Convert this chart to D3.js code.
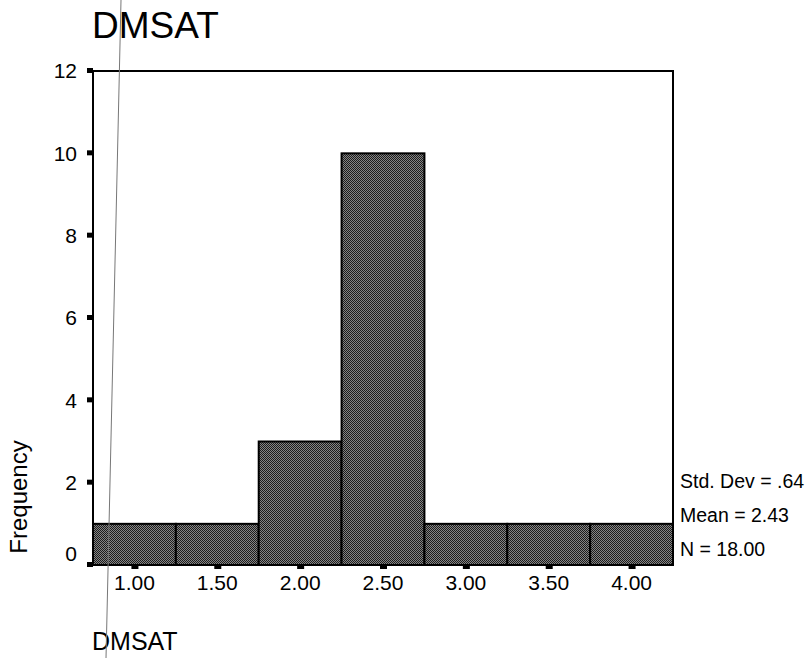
<!DOCTYPE html>
<html>
<head>
<meta charset="utf-8">
<script src="https://cdn.jsdelivr.net/npm/d3@7"></script>
<style>
  body { margin: 0; background: #fff; }
  text { font-family: "Liberation Sans", Arial, sans-serif; fill: #000; }
</style>
</head>
<body>
<svg id="chart"></svg>
<script>
// data
const binCenters = [1.0, 1.5, 2.0, 2.5, 3.0, 3.5, 4.0];
const frequencies = [1, 1, 3, 10, 1, 1, 1];
const yTicks = [0, 2, 4, 6, 8, 10, 12];
const xTickLabels = ["1.00", "1.50", "2.00", "2.50", "3.00", "3.50", "4.00"];
const statLines = ["Std. Dev = .64", "Mean = 2.43", "N = 18.00"];
const varName = "DMSAT";
const binWidth = 0.5;

// constants
const width = 812;
const height = 658;
const margin = { left: 93, right: 139, top: 71, bottom: 93 };
const visWidth = width - margin.left - margin.right;
const visHeight = height - margin.top - margin.bottom;

const svg = d3.select('svg#chart').attr('width', width).attr('height', height);

// halftone-like fill for the bars
const defs = svg.append('defs');
const pat = defs.append('pattern').attr('id', 'dots')
  .attr('width', 2).attr('height', 2).attr('patternUnits', 'userSpaceOnUse');
pat.append('rect').attr('width', 2).attr('height', 2).attr('fill', '#858585');
pat.append('rect').attr('x', 0).attr('y', 0).attr('width', 1).attr('height', 1).attr('fill', '#1c1c1c');
pat.append('rect').attr('x', 1).attr('y', 1).attr('width', 1).attr('height', 1).attr('fill', '#1c1c1c');

const g = svg.append('g').attr('transform', `translate(${margin.left}, ${margin.top})`);

const xScale = d3.scaleLinear()
  .domain([binCenters[0] - binWidth / 2, binCenters[binCenters.length - 1] + binWidth / 2])
  .range([0, visWidth]);
const yScale = d3.scaleLinear().domain([0, 12]).range([visHeight, 0]);

// bars
g.selectAll('rect.bar').data(binCenters).enter().append('rect')
  .attr('class', 'bar')
  .attr('x', d => xScale(d - binWidth / 2))
  .attr('y', (d, i) => yScale(frequencies[i]))
  .attr('width', xScale(binWidth) - xScale(0))
  .attr('height', (d, i) => yScale(0) - yScale(frequencies[i]))
  .attr('fill', 'url(#dots)')
  .attr('stroke', '#000')
  .attr('stroke-width', 2);

// frame
g.append('rect')
  .attr('x', 0).attr('y', 0)
  .attr('width', visWidth).attr('height', visHeight)
  .attr('fill', 'none').attr('stroke', '#000').attr('stroke-width', 2);

// y ticks (small squares) and labels
g.selectAll('rect.ytick').data(yTicks).enter().append('rect')
  .attr('class', 'ytick')
  .attr('x', -6).attr('y', d => yScale(d) - 3)
  .attr('width', 6).attr('height', 5).attr('fill', '#000');
g.selectAll('text.ylab').data(yTicks).enter().append('text')
  .attr('class', 'ylab')
  .attr('x', -16)
  .attr('y', d => yScale(d) + (d === 0 ? -11 : 0))
  .attr('dy', '0.35em')
  .attr('text-anchor', 'end')
  .style('font-size', '21px')
  .text(d => d);

// x ticks and labels
g.selectAll('rect.xtick').data(binCenters).enter().append('rect')
  .attr('class', 'xtick')
  .attr('x', d => xScale(d) - 3).attr('y', visHeight + 1)
  .attr('width', 7).attr('height', 3).attr('fill', '#000');
g.selectAll('text.xlab').data(binCenters).enter().append('text')
  .attr('class', 'xlab')
  .attr('x', d => xScale(d))
  .attr('y', visHeight + 25)
  .attr('text-anchor', 'middle')
  .style('font-size', '21px')
  .text((d, i) => xTickLabels[i]);

// titles
svg.append('text').attr('x', 92).attr('y', 38)
  .style('font-size', '37px').text(varName);
svg.append('text').attr('x', 92).attr('y', 650)
  .style('font-size', '25px').text(varName);
svg.append('text')
  .attr('transform', 'translate(27, 497) rotate(-90)')
  .attr('text-anchor', 'middle')
  .style('font-size', '24px')
  .text('Frequency');

// summary stats
svg.selectAll('text.stat').data(statLines).enter().append('text')
  .attr('class', 'stat')
  .attr('x', 680)
  .attr('y', (d, i) => 488 + i * 34)
  .style('font-size', '19.5px')
  .text(d => d);

// thin scan line across the page
svg.append('line')
  .attr('x1', 121).attr('y1', 0).attr('x2', 106).attr('y2', height)
  .attr('stroke', '#777').attr('stroke-width', 1);
</script>
</body>
</html>
